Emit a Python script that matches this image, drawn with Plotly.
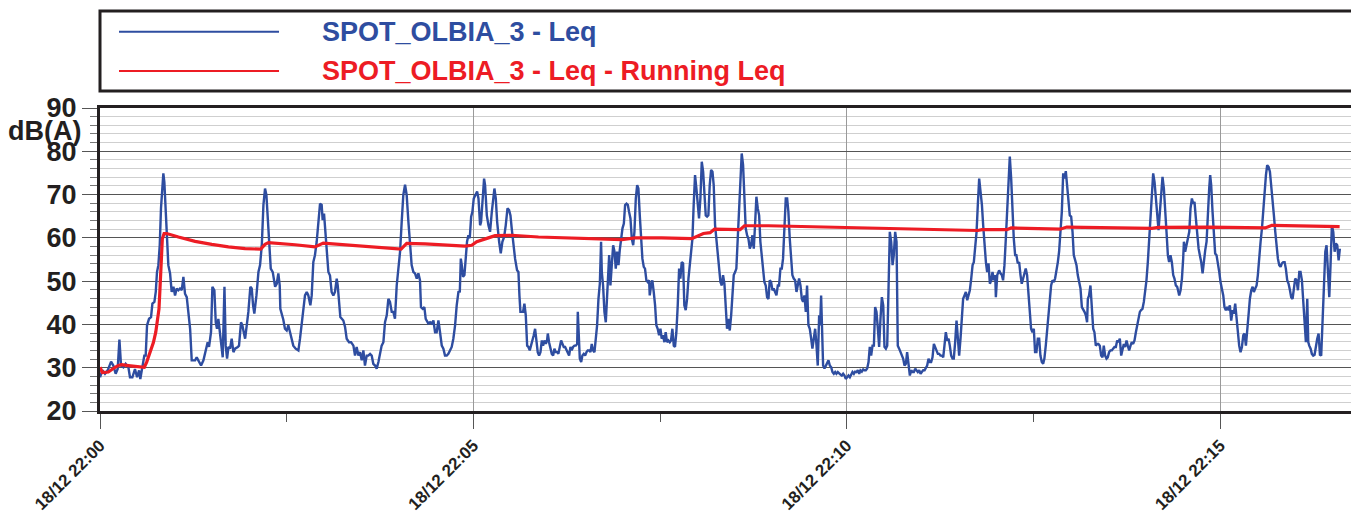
import pandas as pd
import plotly.graph_objects as go

# ---------------- data ----------------
start_time = "2016-12-18 22:00:00"

# Leq (seconds after 22:00:00, dB(A))
leq_sec = [0, 1.9, 4, 6.2, 8.9, 10.7, 12.6, 14.2, 15.6, 16.9, 18.8, 20.6, 22.8, 24.1, 26, 28.1, 29.8, 31.4, 32.4, 34,
           35.6, 36.7, 37.8, 39.4, 41, 42.1, 43.7, 44.8, 45.8, 46.9, 48, 49, 50.1, 50.9, 51.7, 52.8, 53.9, 54.9, 56.3, 57.6,
           59, 60.3, 61.6, 63, 64.3, 65.7, 67, 68.3, 69.7, 71, 72.4, 73.7, 76.4, 77.7, 79, 81.2, 83.1, 84.9, 86.5, 87.6,
           89.2, 90.3, 91.9, 93, 94, 95.1, 96.2, 97.3, 98.6, 100, 101, 102.1, 103.2, 104.5, 105.8, 107.2, 108.5, 110.7, 111.7, 113.3,
           114.4, 115.5, 116.6, 117.9, 119.2, 120.8, 121.9, 123, 124, 125.7, 127.3, 128.6, 130, 131.3, 132.6, 133.7, 134.8, 135.8, 137.2, 138.8,
           140.7, 142, 143.3, 144.4, 144.9, 147.3, 148.6, 150, 151.3, 152.7, 154, 155.3, 157.2, 159.4, 160.7, 162, 163.4, 164.7, 166.1, 167.4,
           169, 170.1, 171.4, 172.7, 174.1, 175.4, 176.8, 178.1, 178.9, 180, 180.8, 182.1, 183.5, 184.8, 186.1, 187.5, 188.8, 190.2, 191, 192,
           193.1, 195.5, 196.9, 198.2, 200.1, 201.7, 203.6, 204.9, 206.2, 207.6, 208.9, 210.3, 211.6, 212.9, 214.3, 215.6, 217, 218.3, 219.6, 221,
           222.3, 223.7, 225, 226.3, 227.7, 229, 230.4, 231.7, 233, 234.4, 235.7, 237, 238.4, 239.7, 241.1, 242.4, 243.7, 245.1, 246.4, 247.8,
           249.1, 250.4, 251.8, 253.1, 254.5, 255.8, 257.1, 257.9, 259.3, 260.6, 261.7, 263.8, 265.2, 266.5, 267.9, 269.2, 270.5, 271.9, 273.2, 274.6,
           275.9, 277.2, 278.6, 279.9, 281.2, 282.6, 283.9, 285.3, 286.6, 288, 289.1, 289.9, 290.7, 291.7, 292.8, 293.9, 294.9, 296, 297.1, 298.2,
           299.2, 300.3, 301.9, 303, 304.1, 305.4, 306.2, 307.3, 308.6, 309.4, 310.8, 312.1, 313.4, 314.8, 316.1, 316.9, 318, 319.1, 320.7, 322,
           323.3, 324.7, 326, 327.4, 328.7, 329.8, 330.8, 332.2, 333.5, 335.1, 336.2, 337, 337.8, 338.9, 339.9, 341, 342.1, 343.2, 344.2, 345.3,
           346.4, 347.5, 348.5, 349.6, 350.7, 351.7, 352.8, 353.9, 355, 356, 357.1, 358.2, 359.2, 359.8, 360.8, 361.9, 363, 364.1, 365.1, 366.2,
           367.3, 368.3, 369.4, 370.5, 371.6, 372.6, 373.7, 374.8, 375.8, 376.9, 378, 379, 380.1, 381.2, 382.3, 383.4, 383.9, 384.4, 385.5, 386.6,
           387.6, 388.7, 389.8, 390.9, 391.9, 393, 394.1, 395.1, 396.2, 397.3, 398.4, 399.4, 400.5, 401.6, 402.6, 403.2, 404.2, 405.3, 406.4, 407.5,
           408.5, 409.1, 409.6, 410.1, 411.2, 412.3, 413.4, 414.4, 415.5, 416.6, 417.6, 418.7, 419.8, 420.9, 421.9, 423, 424.1, 425.1, 426.2, 427.3,
           428.4, 429.4, 430.5, 431.6, 432.6, 433.7, 434.7, 435.8, 436.9, 437.9, 439, 440.1, 441.2, 441.7, 442.8, 443.8, 444.9, 446, 447, 448.1,
           449.2, 450.3, 451.3, 452.4, 453.5, 454.5, 455.6, 456.7, 457.8, 458.8, 459.9, 461, 462, 463.1, 464.2, 465.3, 466.3, 467.4, 468.5, 469.5,
           470.6, 471.7, 472.8, 473.8, 474.9, 476, 477, 478.1, 479.2, 480.3, 481.3, 482.4, 483.5, 484.6, 485.6, 486.7, 487.8, 488.8, 489.9, 491,
           492.1, 493.1, 494.2, 495.3, 496.3, 497.4, 498.5, 499.6, 500.6, 501.7, 502.8, 503.8, 504.9, 506, 507.1, 508.1, 509.2, 510.3, 511.3, 512.4,
           513.5, 514.6, 515.6, 516.7, 517.8, 518.8, 519.9, 521, 522.1, 523.1, 524.2, 525.3, 526.3, 527.4, 528.5, 529.6, 530.6, 531.7, 532.8, 533.8,
           534.9, 536, 537.1, 538.1, 539.2, 540.3, 541.3, 542.4, 543.5, 544.6, 545.6, 546.7, 547.8, 548.8, 549.9, 551, 552.1, 553.1, 554.2, 555.3,
           556.3, 557.4, 558.5, 559.6, 560.6, 561.7, 562.8, 563.9, 564.9, 566, 567.1, 568.1, 569.2, 570.3, 571.4, 572.4, 573.5, 574.6, 575.7, 576.7,
           577.8, 578.6, 579.4, 580.2, 581, 582.1, 583.2, 584.2, 585.3, 586.4, 587.5, 588.5, 589.6, 590.7, 591.7, 592.8, 593.9, 595, 596, 597.1,
           598.2, 599.2, 600.3, 601.4, 602.5, 603.5, 604.6, 605.7, 606.7, 607.8, 608.9, 610, 611, 612.1, 613.2, 614.2, 615.3, 616.4, 617.5, 618.5,
           619.6, 620.7, 621.8, 622.8, 623.9, 625, 626, 627.1, 628.2, 629.3, 630.3, 631.4, 632.5, 633.5, 634.6, 635.7, 636.8, 637.8, 638.9, 640,
           641, 642.1, 643.2, 644.3, 645.3, 646.4, 647.5, 648.5, 649.6, 650.7, 651.8, 652.8, 653.9, 655, 656, 657.1, 658.2, 659.3, 660.3, 661.4,
           662.5, 663.5, 664.6, 665.7, 666.8, 667.8, 668.9, 670, 671, 672.1, 673.2, 674.3, 675.3, 676.4, 677.5, 678.5, 679.6, 680.7, 681.8, 682.8,
           683.9, 685, 686, 687.1, 688.2, 689.3, 690.3, 691.4, 692.5, 693.5, 694.6, 695.7, 696.8, 697.8, 698.9, 700, 701.1, 702.1, 703.2, 704.3,
           705.3, 706.4, 707.5, 708.6, 709.6, 710.7, 711.8, 712.8, 713.9, 715, 716.1, 717.1, 718.2, 719.3, 719.8, 720.9, 721.9, 722.4, 723.5, 724.6,
           725.6, 726.7, 727.8, 728.8, 729.9, 731, 732.1, 733.1, 734.2, 735.3, 736.3, 737.4, 738.5, 739.6, 740.6, 741.7, 742.8, 743.8, 744.9, 746,
           747.1, 748.1, 749.2, 750.3, 751.3, 752.4, 753.5, 754.6, 755.6, 756.7, 757.8, 758.8, 759.9, 761, 762.1, 763.1, 764.2, 765.3, 766.4, 767.4,
           768.5, 769.6, 770.6, 771.7, 772.8, 773.9, 774.9, 776, 777.1, 778.1, 779.2, 780.3, 781.4, 782.4, 783.5, 784.6, 785.6, 786.7, 787.8, 788.9,
           789.9, 791, 792.1, 793.1, 793.7, 794.7, 795.8, 796.9, 798, 799, 800.1, 801.2, 802.2, 803.3, 804.4, 805.5, 806.5, 807.6, 808.7, 809.7,
           810.8, 811.9, 813, 814, 815.1, 816.2, 817.3, 818.3, 819.4, 820.5, 821.5, 822.6, 823.7, 824.8, 825.8, 826.9, 828, 829, 830.1, 831.2,
           832.3, 833.3, 834.4, 835.5, 836.5, 837.6, 838.7, 839.8, 840.8, 841.9, 843, 844, 845.1, 846.2, 847.3, 848.3, 849.4, 850.5, 851.5, 852.6,
           853.7, 854.8, 855.8, 856.9, 858, 859, 860.1, 861.2, 862.3, 863.3, 864.4, 865.5, 866.5, 867.1, 868.2, 869.3, 870.3, 870.9, 871.9, 873,
           874.1, 875.2, 876.2, 877.3, 878.4, 879.4, 880.5, 881.6, 882.7, 883.7, 884.8, 885.9, 886.9, 888, 889.1, 890.2, 891.2, 892, 892.8, 893.9,
           895, 896, 897.1, 898.2, 899.3, 900.3, 901.4, 902.5, 903.5, 904.6, 905.7, 906.8, 907.8, 908.9, 910, 911, 912.1, 913.2, 914.3, 915.3,
           916.4, 917.5, 918.6, 919.6, 920.7, 921.8, 922.8, 923.9, 925, 926.1, 927.1, 928.2, 929.3, 930.3, 931.4, 932.5, 933.6, 934.6, 935.7, 936.8,
           937.8, 938.9, 940, 941.1, 942.1, 943.2, 944.3, 945.3, 946.4, 947.5, 948.6, 949.6, 950.7, 951.8, 952.8, 953.9, 955, 956.1, 957.1, 958.2,
           959.3, 960.3, 961.4, 962.5, 963.6, 964.6, 965.7, 966.8, 967.8, 968.9, 970, 970.8, 971.6, 972.7, 973.7, 974.8, 975.9, 977, 978, 979.1,
           980.2, 981.2, 982.3, 983.4, 984.5, 985.5, 986.6, 987.7, 988.7, 989.8, 990.9, 992, 993, 994.1, 995.2, 996.2]

leq_db = [27.8, 29.4, 28.6, 29.4, 31.4, 30.5, 28.6, 29.7, 36.5, 30.5, 30.1, 30.9, 30.1, 27.8, 27.8, 29.7, 27.8, 29.4, 27.4, 30.5,
          32.8, 32.8, 39.8, 41.3, 41.7, 44.8, 45.2, 47.5, 52.1, 53.7, 58.3, 66.8, 72.9, 74.9, 72.9, 66.0, 58.3, 53.7, 51.8, 47.5,
          48.7, 46.7, 48.3, 47.9, 48.3, 47.9, 51.0, 47.1, 46.3, 42.9, 39.0, 31.7, 31.7, 32.4, 31.7, 30.5, 31.7, 33.6, 35.9, 34.8,
          38.2, 48.7, 47.9, 40.5, 39.0, 41.3, 38.2, 35.9, 32.4, 48.7, 35.1, 32.1, 34.8, 34.4, 36.7, 33.6, 34.4, 34.8, 35.1, 40.5,
          39.8, 38.2, 36.7, 39.8, 42.9, 48.7, 48.3, 44.4, 42.5, 46.7, 52.1, 53.7, 58.3, 67.6, 71.4, 69.9, 64.5, 58.3, 52.9, 52.1,
          48.7, 49.4, 51.8, 49.0, 43.6, 41.1, 39.0, 38.6, 39.8, 38.2, 36.7, 35.1, 34.4, 34.0, 36.7, 39.8, 44.4, 46.7, 47.5, 46.7,
          44.4, 46.7, 54.4, 56.0, 59.1, 63.7, 67.9, 67.6, 64.1, 65.6, 61.4, 57.5, 52.1, 51.3, 47.5, 46.7, 47.5, 50.6, 49.0, 44.4,
          41.7, 40.9, 39.4, 36.7, 35.9, 35.9, 35.1, 32.8, 34.8, 32.8, 33.6, 31.7, 34.0, 30.5, 32.8, 32.8, 33.2, 32.8, 30.9, 30.5,
          29.8, 31.3, 33.6, 35.1, 35.9, 40.5, 42.1, 45.9, 45.2, 42.9, 42.9, 41.3, 49.0, 53.3, 56.8, 63.7, 69.9, 72.3, 69.9, 63.7,
          58.3, 53.7, 52.1, 51.8, 50.6, 51.8, 50.2, 44.0, 43.6, 44.0, 41.3, 40.2, 40.5, 40.2, 40.9, 38.2, 38.2, 40.9, 38.2, 35.1,
          34.4, 32.8, 32.8, 33.2, 34.0, 34.8, 36.7, 39.8, 44.4, 47.5, 47.6, 55.2, 53.7, 51.0, 51.4, 56.0, 59.1, 60.6, 59.9, 64.9,
          66.0, 69.1, 69.9, 70.7, 69.1, 62.9, 63.7, 69.1, 73.7, 72.2, 65.2, 62.9, 61.4, 66.0, 70.7, 71.4, 69.1, 63.7, 59.1, 56.4,
          59.1, 60.2, 62.9, 66.8, 66.4, 65.2, 62.2, 58.3, 55.2, 52.5, 52.1, 46.7, 42.9, 42.9, 42.9, 44.8, 42.1, 35.1, 34.8, 34.0,
          35.1, 35.9, 37.5, 39.0, 35.1, 33.6, 32.8, 33.6, 36.3, 35.1, 36.3, 35.5, 36.3, 37.9, 35.9, 34.8, 33.2, 32.8, 34.4, 33.6,
          33.6, 33.2, 35.1, 36.3, 35.5, 34.8, 34.8, 34.0, 33.6, 32.8, 34.8, 34.0, 34.8, 35.1, 35.1, 35.5, 42.9, 38.2, 32.1, 31.3,
          32.8, 33.2, 32.8, 33.6, 34.0, 34.0, 33.6, 35.5, 34.0, 33.6, 36.7, 39.8, 45.9, 49.4, 59.1, 52.1, 49.0, 42.9, 40.5, 45.9,
          53.7, 56.0, 53.7, 49.0, 53.7, 58.3, 56.8, 52.9, 56.8, 53.7, 57.1, 59.8, 62.2, 63.3, 67.6, 67.9, 67.6, 66.0, 64.5, 59.8,
          58.3, 61.4, 69.1, 72.2, 71.4, 65.2, 59.8, 55.2, 53.3, 52.9, 50.2, 49.8, 50.2, 46.7, 49.0, 50.2, 47.5, 44.4, 39.8, 39.0,
          37.5, 39.0, 36.7, 37.5, 35.9, 38.2, 35.9, 36.3, 35.9, 36.3, 39.0, 35.1, 34.8, 38.2, 44.4, 52.9, 50.6, 54.4, 54.1, 44.4,
          43.3, 45.9, 50.6, 53.7, 56.0, 59.8, 67.6, 74.5, 71.4, 67.6, 64.5, 69.1, 77.6, 75.3, 69.1, 65.2, 64.9, 65.2, 72.2, 75.7,
          75.3, 72.2, 62.9, 59.1, 56.0, 52.9, 49.8, 49.0, 51.4, 49.4, 43.6, 39.0, 41.3, 38.6, 42.1, 45.9, 51.4, 52.1, 52.9, 59.8,
          66.8, 72.9, 79.5, 76.8, 67.6, 62.2, 60.6, 59.8, 57.5, 58.3, 60.6, 57.5, 62.9, 69.5, 66.8, 65.2, 59.1, 56.0, 53.7, 49.8,
          49.0, 46.3, 45.9, 50.2, 49.8, 47.9, 48.3, 47.5, 46.7, 49.0, 49.0, 52.9, 52.9, 55.2, 62.2, 69.1, 69.1, 66.0, 59.8, 56.0,
          51.4, 50.6, 50.2, 47.5, 49.0, 50.6, 49.0, 45.9, 45.2, 46.7, 42.9, 49.0, 39.8, 39.0, 36.7, 34.4, 36.7, 39.0, 35.1, 30.5,
          42.1, 39.8, 46.7, 39.8, 30.5, 29.8, 30.5, 31.3, 31.7, 30.5, 30.1, 29.0, 28.6, 29.0, 28.6, 29.0, 28.6, 28.4, 28.2, 28.6,
          28.2, 27.4, 27.8, 28.2, 27.8, 28.6, 29.0, 28.6, 29.1, 29.0, 29.4, 28.6, 29.4, 29.1, 29.6, 29.4, 29.4, 29.8, 31.3, 34.8,
          32.8, 35.1, 35.1, 44.0, 42.9, 39.0, 34.8, 41.3, 46.3, 44.4, 34.8, 34.4, 35.1, 47.5, 61.4, 59.1, 53.7, 56.0, 61.4, 59.1,
          35.1, 34.4, 33.6, 32.4, 32.1, 30.5, 30.9, 33.6, 31.3, 28.2, 29.4, 29.0, 29.0, 29.8, 29.4, 29.0, 29.4, 28.6, 29.0, 29.4,
          29.4, 29.8, 30.5, 32.1, 31.3, 31.3, 32.4, 35.5, 34.8, 33.6, 33.2, 33.2, 32.8, 32.8, 32.4, 35.1, 38.2, 36.3, 36.7, 35.1,
          32.8, 32.1, 32.1, 35.9, 40.9, 36.7, 32.8, 36.7, 42.1, 45.9, 46.7, 47.5, 45.6, 46.7, 47.9, 50.6, 53.7, 54.4, 58.3, 61.4,
          67.6, 73.7, 70.6, 67.6, 62.9, 57.5, 54.4, 52.1, 54.1, 49.4, 50.2, 52.1, 50.2, 51.4, 46.3, 51.4, 52.1, 52.5, 51.8, 51.4,
          50.2, 53.7, 59.8, 66.8, 74.5, 78.8, 73.7, 66.0, 59.8, 56.0, 56.0, 54.1, 54.4, 51.4, 49.4, 50.6, 51.8, 52.9, 51.4, 46.7,
          42.9, 39.0, 38.2, 39.0, 33.6, 33.6, 36.7, 36.7, 32.8, 31.3, 30.9, 32.1, 35.1, 39.0, 42.1, 45.2, 49.0, 50.2, 49.8, 50.6,
          52.1, 54.4, 56.8, 60.6, 66.0, 74.9, 73.7, 75.4, 72.2, 69.1, 65.2, 64.9, 61.4, 56.0, 54.8, 53.7, 51.4, 49.8, 48.3, 44.0,
          43.6, 42.9, 42.1, 40.5, 45.9, 46.7, 49.0, 43.6, 39.0, 38.2, 35.1, 35.5, 35.5, 35.1, 32.8, 32.4, 35.1, 32.8, 32.1, 32.4,
          33.6, 34.0, 34.0, 34.4, 34.8, 34.8, 36.3, 35.9, 36.7, 32.8, 34.0, 35.5, 34.8, 36.3, 35.1, 34.0, 35.1, 35.9, 35.5, 36.3,
          38.2, 39.8, 42.1, 42.9, 43.3, 43.6, 45.2, 47.5, 50.2, 54.4, 59.8, 66.8, 71.4, 74.9, 72.9, 69.1, 64.5, 61.8, 65.6, 70.6,
          74.1, 71.4, 67.6, 61.4, 56.0, 54.4, 56.0, 54.4, 51.4, 50.6, 49.0, 48.7, 47.5, 46.7, 47.9, 50.6, 55.2, 59.1, 56.8, 58.3,
          59.1, 61.4, 66.8, 69.1, 67.9, 68.3, 64.5, 59.8, 57.5, 56.0, 54.4, 51.8, 55.2, 57.1, 59.1, 67.6, 71.4, 74.5, 72.2, 66.0,
          61.4, 56.4, 56.0, 54.4, 52.1, 49.8, 48.3, 46.7, 44.0, 43.3, 44.0, 43.3, 44.4, 40.9, 43.3, 42.5, 44.8, 41.3, 38.2, 35.1,
          33.6, 34.8, 37.5, 37.9, 35.1, 38.2, 42.1, 45.9, 47.9, 48.7, 47.5, 48.3, 49.0, 51.4, 56.0, 59.1, 62.2, 66.4, 71.4, 74.5,
          76.8, 76.4, 75.3, 72.2, 69.1, 65.2, 61.4, 57.5, 55.2, 53.7, 53.3, 54.1, 54.4, 54.4, 52.9, 50.2, 49.4, 47.9, 46.3, 45.9,
          47.9, 50.6, 50.2, 47.9, 52.1, 52.1, 50.2, 45.9, 39.8, 35.9, 45.9, 35.9, 35.1, 34.4, 33.2, 32.8, 33.0, 35.1, 36.7, 37.9,
          33.0, 32.8, 41.3, 51.4, 56.8, 58.3, 52.1, 46.3, 53.7, 62.9, 61.4, 56.8, 58.7, 58.3, 54.8, 57.5]

# Running Leq (seconds after 22:00:00, dB(A))
run_sec = [0, 1.9, 6.7, 9.4, 12.1, 14.8, 17.4, 22.8, 28.1, 35.6, 37.5, 40.2, 42.9, 44.8, 46.4, 47.4, 48.2, 49.0, 50.1, 51.5,
           53.6, 63, 76.4, 89.8, 103.2, 116.6, 129.1, 132.6, 135.3, 156.7, 172.7, 179.4, 194.2, 221, 241.9, 246.4, 261.2, 293.3, 298.7, 302.7,
           308.1, 312.1, 317.4, 330.8, 352.3, 379.1, 419.3, 430, 451.3, 475.4, 479.5, 482.1, 484.8, 490.2, 493.7, 514.3, 517.8, 537.1, 578.6, 601.4,
           638.9, 681.8, 705.3, 708.6, 728.6, 732.1, 771.4, 776.8, 845.1, 850.5, 890.7, 936.2, 941.6, 996]
run_db = [30.1, 28.9, 29.0, 29.6, 30.1, 30.5, 30.7, 30.5, 30.4, 30.1, 31.3, 33.6, 35.8, 38.2, 40.9, 43.6, 48.3, 55.2, 59.8, 61.0,
          61.0, 60.2, 59.2, 58.5, 57.9, 57.5, 57.4, 58.5, 58.9, 58.4, 57.9, 58.8, 58.5, 57.8, 57.4, 58.7, 58.6, 58.1, 58.3, 59.1,
          59.7, 60.0, 60.5, 60.6, 60.2, 59.9, 59.6, 60.0, 60.0, 59.8, 60.3, 60.5, 61.0, 61.2, 62.0, 61.9, 62.8, 62.8, 62.5, 62.3,
          62.0, 61.8, 61.7, 61.9, 61.9, 62.3, 62.0, 62.5, 62.2, 62.4, 62.5, 62.3, 62.9, 62.6]

series_names = ["SPOT_OLBIA_3 - Leq", "SPOT_OLBIA_3 - Leq - Running Leq"]
series_colors = ["#2E4DA0", "#ED1C24"]
y_unit = "dB(A)"
x_end_sec = 1018

# ---------------- figure ----------------
t0 = pd.Timestamp(start_time)
leq_t = t0 + pd.to_timedelta(leq_sec, unit="s")
run_t = t0 + pd.to_timedelta(run_sec, unit="s")

FONT = "Liberation Sans, Arial, sans-serif"

fig = go.Figure()
fig.add_trace(go.Scatter(x=leq_t, y=leq_db, mode="lines", name=series_names[0],
                         line=dict(color=series_colors[0], width=2.4)))
fig.add_trace(go.Scatter(x=run_t, y=run_db, mode="lines", name=series_names[1],
                         line=dict(color=series_colors[1], width=3.2)))

# the page body has an 8 px margin, so the figure is shifted by (8, 8) in the window
fig.update_layout(
    width=1359, height=513,
    margin=dict(l=92, r=0, t=100, b=110, autoexpand=False),
    paper_bgcolor="white", plot_bgcolor="white",
    showlegend=False,
    font=dict(family=FONT, color="#231F20"),
)

fig.update_xaxes(
    type="date", automargin=False,
    range=[t0, t0 + pd.Timedelta(seconds=x_end_sec)],
    tick0=t0, dtick=300000,
    tickformat="%d/%m %H:%M", tickangle=-45,
    tickfont=dict(size=17, weight="bold", color="#231F20"),
    ticks="outside", ticklen=15, tickwidth=1, tickcolor="#555",
    showgrid=True, gridcolor="#9a9a9a", gridwidth=1,
    showline=True, linewidth=3, linecolor="#231F20", mirror=True,
    zeroline=False,
    minor=dict(dtick=150000, ticks="outside", ticklen=8, tickcolor="#555", showgrid=False),
)
fig.update_yaxes(
    automargin=False,
    range=[20, 90], tick0=0, dtick=10,
    tickfont=dict(size=27, weight="bold", color="#231F20"),
    ticks="outside", ticklen=15, tickwidth=1, tickcolor="#555",
    showgrid=True, gridcolor="#555", gridwidth=1,
    showline=True, linewidth=3, linecolor="#231F20", mirror=False,
    zeroline=False,
    minor=dict(dtick=2, ticks="outside", ticklen=7, tickcolor="#777",
               showgrid=True, gridcolor="#cfcfcf", gridwidth=1),
)

# unit label
fig.add_annotation(text="<b>" + y_unit + "</b>", xref="paper", yref="paper",
                   x=-0.0134, y=0.925, xanchor="right", yanchor="middle",
                   showarrow=False, font=dict(size=27, family=FONT, color="#231F20"))

# legend box (drawn)
fig.add_shape(type="rect", xref="paper", yref="paper", x0=0, x1=1.01, y0=1.056, y1=1.320,
              line=dict(color="#231F20", width=3), fillcolor="rgba(0,0,0,0)", layer="above")
leg_y = [1.2518, 1.1221]
for name, col, yy in zip(series_names, series_colors, leg_y):
    fig.add_shape(type="line", xref="paper", yref="paper", x0=0.0150, x1=0.1413, y0=yy, y1=yy,
                  line=dict(color=col, width=2))
    fig.add_annotation(text="<b>" + name + "</b>", xref="paper", yref="paper",
                       x=0.1736, y=yy, xanchor="left", yanchor="middle", showarrow=False,
                       font=dict(size=27, family=FONT, color=col))

fig.write_html("out.html")
